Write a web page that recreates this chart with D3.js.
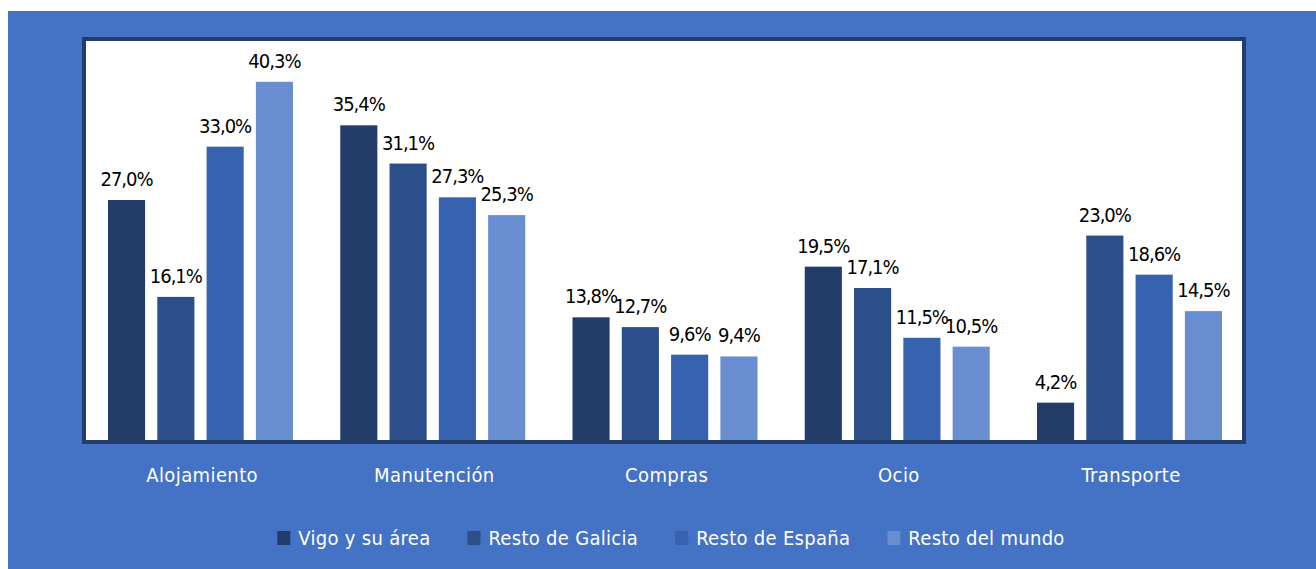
<!DOCTYPE html>
<html>
<head>
<meta charset="utf-8">
<script src="https://cdn.jsdelivr.net/npm/d3@7"></script>
<style>
  body { margin: 0; background: #fff; }
  text { font-family: "DejaVu Sans Condensed", "DejaVu Sans", sans-serif; }
</style>
</head>
<body>
<div id="chart"></div>
<script>
// categories and series
var categories = ["Alojamiento", "Manutención", "Compras", "Ocio", "Transporte"];
var seriesNames = ["Vigo y su área", "Resto de Galicia", "Resto de España", "Resto del mundo"];
var vigo    = [27.0, 35.4, 13.8, 19.5, 4.2];
var galicia = [16.1, 31.1, 12.7, 17.1, 23.0];
var espana  = [33.0, 27.3, 9.6, 11.5, 18.6];
var mundo   = [40.3, 25.3, 9.4, 10.5, 14.5];
var colors  = ["#233c6a", "#2c4f8b", "#3662b0", "#698dd1"];

var seriesValues = [vigo, galicia, espana, mundo];
var W = 1316, H = 569;

var svg = d3.select("#chart").append("svg")
    .attr("width", W)
    .attr("height", H);

// blue panel
svg.append("rect")
    .attr("x", 8).attr("y", 11)
    .attr("width", W - 8).attr("height", H - 11)
    .attr("fill", "#4472c4");

// plot area with dark frame
var plot = { left: 86, right: 1242, top: 41, bottom: 440 };
svg.append("rect")
    .attr("x", plot.left - 2).attr("y", plot.top - 2)
    .attr("width", plot.right - plot.left + 4)
    .attr("height", plot.bottom - plot.top + 4)
    .attr("fill", "#fff")
    .attr("stroke", "#233c6a")
    .attr("stroke-width", 4);

// groups are slightly wider than the frame in the original
var x0 = d3.scaleBand()
    .domain(categories)
    .range([plot.left, plot.left + 5 * 232.25])
    .paddingInner(0)
    .paddingOuter(0);

var x1 = d3.scaleBand()
    .domain(d3.range(seriesNames.length))
    .range([22, 207])
    .paddingInner(0.247);

var y = d3.scaleLinear()
    .domain([0, 45])
    .range([plot.bottom, plot.top - 1]);

var rows = [];
categories.forEach(function(c, i) {
    seriesValues.forEach(function(s, j) {
        rows.push({ cat: c, s: j, value: s[i] });
    });
});

var bars = svg.selectAll("rect.bar")
    .data(rows)
    .enter()
    .append("rect")
    .classed("bar", true)
    .attr("x", function (d) { return x0(d.cat) + x1(d.s); })
    .attr("y", function (d) { return y(d.value); })
    .attr("width", x1.bandwidth())
    .attr("height", function (d) { return plot.bottom - y(d.value); })
    .attr("fill", function (d) { return colors[d.s]; });

// value labels
svg.selectAll("text.val")
    .data(rows)
    .enter()
    .append("text")
    .classed("val", true)
    .attr("x", function (d) { return x0(d.cat) + x1(d.s) + x1.bandwidth() / 2; })
    .attr("y", function (d) { return y(d.value) - 14; })
    .attr("text-anchor", "middle")
    .attr("font-size", 20)
    .attr("letter-spacing", -1)
    .attr("fill", "#000")
    .text(function (d) { return d.value.toFixed(1).replace(".", ",") + "%"; });

// category axis
var xAxis = svg.append("g")
    .attr("transform", "translate(0," + (plot.bottom + 4) + ")")
    .call(d3.axisBottom(x0).tickSize(0).tickPadding(24));
xAxis.select(".domain").remove();
xAxis.selectAll("text")
    .attr("font-size", 20)
    .attr("fill", "#fff")
    .style("font-family", "'DejaVu Sans Condensed', 'DejaVu Sans', sans-serif")
    .attr("letter-spacing", 0.4);

// legend
var legend = svg.append("g");
var items = legend.selectAll("g")
    .data(seriesNames)
    .enter()
    .append("g");
items.append("rect")
    .attr("width", 13).attr("height", 14)
    .attr("y", -14)
    .attr("fill", function (d, i) { return colors[i]; });
items.append("text")
    .attr("x", 21)
    .attr("y", 0)
    .attr("font-size", 20)
    .attr("fill", "#fff")
    .attr("letter-spacing", 0.3)
    .text(function (d) { return d; });

var xpos = 0;
items.each(function() {
    var g = d3.select(this);
    g.attr("transform", "translate(" + xpos + ",0)");
    xpos += 21 + g.select("text").node().getComputedTextLength() + 37;
});
var total = xpos - 37;
legend.attr("transform", "translate(" + (671 - total / 2) + ",545)");
</script>
</body>
</html>
